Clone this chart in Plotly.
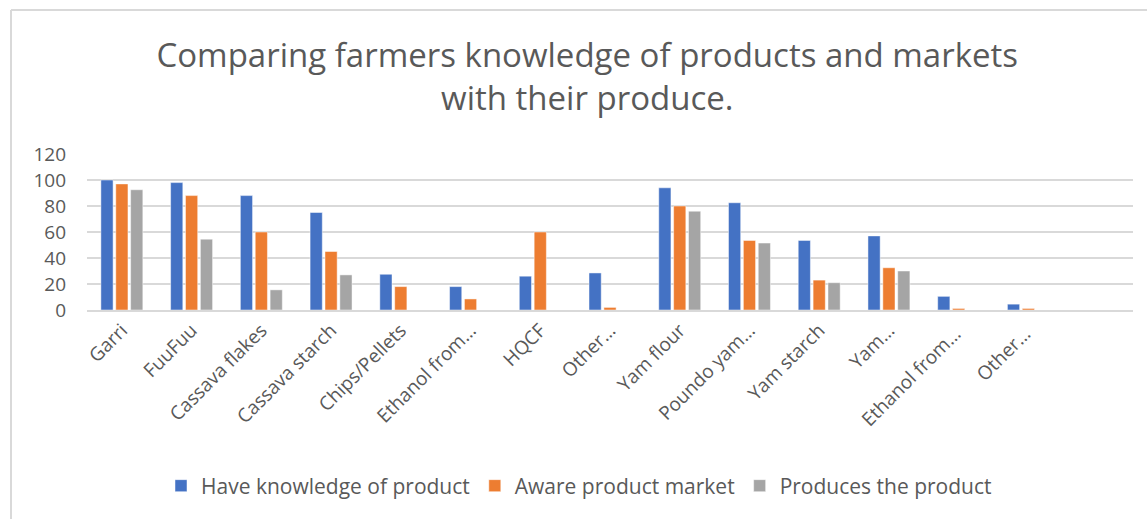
import plotly.graph_objects as go

categories = ["Garri", "FuuFuu", "Cassava flakes", "Cassava starch", "Chips/Pellets",
              "Ethanol from…", "HQCF", "Other…", "Yam flour", "Poundo yam…",
              "Yam starch", "Yam…", "Ethanol from… ", "Other… "]
knowledge = [100, 98, 88, 75, 27.5, 18, 26, 28.5, 94, 82.5, 53.5, 57, 10.5, 4.5]
aware = [97, 88, 60, 45, 18, 8.5, 60, 2, 80, 53.5, 23, 32.5, 1.2, 1.2]
produces = [92.5, 54.5, 15.5, 27, 0, 0, 0, 0, 76, 51.5, 21, 30, 0, 0]
series_names = ["Have knowledge of product", "Aware product market", "Produces the product"]
colors = ["#4472C4", "#ED7D31", "#A5A5A5"]
y_ticks = [0, 20, 40, 60, 80, 100, 120]

W, H = 1147, 519
L, R, T, B = 87, 14, 154, 209

fig = go.Figure()
for name, vals, col in zip(series_names, [knowledge, aware, produces], colors):
    fig.add_trace(go.Bar(x=categories, y=vals, name=name,
                         marker=dict(color=col, line=dict(color="rgba(255,255,255,0.6)", width=0.8))))

font_fam = "Open Sans, Liberation Sans, sans-serif"
fig.update_layout(
    width=W, height=H,
    margin=dict(l=L, r=R, t=T, b=B, autoexpand=False),
    paper_bgcolor="white", plot_bgcolor="white",
    barmode="group", bargap=0.36, bargroupgap=0.18,
    font=dict(family=font_fam, color="#595959"),
    title=dict(text="Comparing farmers knowledge of products and markets<br>with their produce.",
               x=0.512, xanchor="center", y=1 - 67 / H, yanchor="middle",
               font=dict(size=33, color="#595959", family=font_fam)),
    xaxis=dict(type="category", range=[-0.5, 14.5], tickangle=-45,
               tickfont=dict(size=19, color="#595959"), showline=True,
               linecolor="#d9d9d9", linewidth=1.5, ticks="", showgrid=False),
    yaxis=dict(range=[0, 120], tickvals=y_ticks, showgrid=True, gridcolor="#d9d9d9",
               gridwidth=1.5, zeroline=False, tickfont=dict(size=19, color="#595959"),
               ticklabelstandoff=20, ticks=""),
    legend=dict(orientation="h", x=(579 - L) / (W - L - R), xanchor="center",
                y=-(486 - (H - B)) / (H - T - B), yanchor="middle",
                font=dict(size=21, color="#595959"), itemwidth=30,
                traceorder="normal"),
    shapes=[
        dict(type="line", xref="paper", yref="paper",
             x0=(11 - L) / (W - L - R), x1=(11 - L) / (W - L - R),
             y0=(H - B - 10) / (H - T - B), y1=-(B + 5) / (H - T - B),
             line=dict(color="#d9d9d9", width=2)),
        dict(type="line", xref="paper", yref="paper",
             x0=(11 - L) / (W - L - R), x1=(W + 5 - L) / (W - L - R),
             y0=(H - B - 10) / (H - T - B), y1=(H - B - 10) / (H - T - B),
             line=dict(color="#d9d9d9", width=2)),
    ],
)
fig.write_html("out.html")
